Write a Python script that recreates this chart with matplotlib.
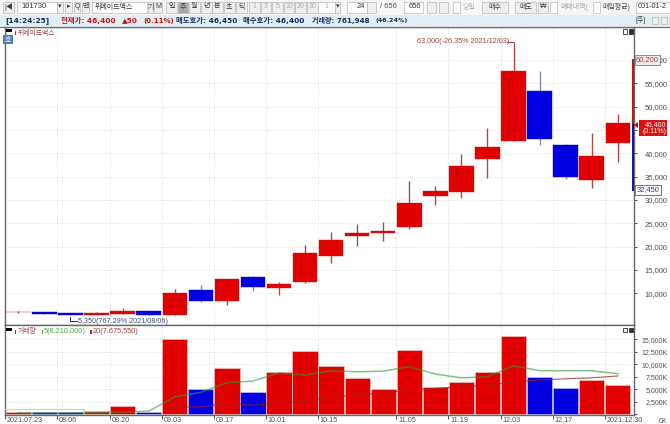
import numpy as np
import matplotlib
matplotlib.use('Agg')
import matplotlib.pyplot as plt
from matplotlib.patches import Rectangle, Polygon
from matplotlib.transforms import ScaledTranslation

plt.rcParams['font.family'] = ['Liberation Sans', 'Noto Sans CJK KR', 'DejaVu Sans']
BOLD_FONT = ['DejaVu Sans', 'Noto Sans CJK KR']

W, H = 670, 424

# weekly candles
date_labels = ['2021.07.23', '08.06', '08.20', '09.03', '09.17', '10.01', '10.15', '11.05', '11.19', '12.03', '12.17', '2021.12.30']
date_index = [0, 2, 4, 6, 8, 10, 12, 15, 17, 19, 21, 23]

opens = [5900, 5950, 5700, 5400, 5650, 6150, 5350, 10700, 8400, 13430, 11100, 12360,
         18000, 22300, 22860, 24280, 30800, 31780, 38720, 42700, 53350, 41800, 34300, 42150]
closes = [6100, 5650, 5350, 5850, 6150, 5400, 10150, 8400, 13000, 11420, 11950, 18700,
          21500, 23000, 23420, 29420, 32000, 37290, 41420, 57700, 43000, 34900, 39500, 46400]
highs = [6200, 6000, 5750, 6000, 6850, 6300, 10900, 11800, 13000, 13700, 12350, 20350,
         23100, 24850, 25350, 34070, 33060, 39790, 45360, 63000, 57700, 42100, 44300, 48350]
lows = [5800, 5600, 5350, 5300, 5600, 5300, 5350, 8200, 7500, 10560, 9650, 12150,
        16570, 20200, 21200, 23850, 28930, 30490, 34650, 42700, 41800, 34600, 32500, 38200]
down = [0, 1, 1, 0, 0, 1, 0, 1, 0, 1, 0, 0, 0, 0, 0, 0, 0, 0, 0, 0, 1, 1, 0, 0]

# volume in thousands
volume = [500, 450, 450, 700, 1670, 470, 15050, 5000, 9330, 4375, 8400, 12700,
          9740, 7200, 5040, 12900, 5500, 6450, 8530, 15700, 7400, 5300, 6800, 5850]
ma5 = [300, 300, 300, 350, 450, 600, 3490, 4400, 6300, 6650, 8300, 7860,
       8700, 8500, 8650, 9530, 8060, 7300, 7500, 9730, 8720, 8720, 8720, 8120]
ma20_x = [6, 7, 8, 9, 10, 11, 12, 13, 14, 15, 16, 17, 18, 19, 20, 21, 22, 23]
ma20 = [1470, 1470, 2150, 1800, 2150, 2800, 3400, 3900, 4200, 4900, 5200, 5500, 5800, 6500, 6850, 7100, 7300, 7675]
# pale line over the first weeks
early_x = [-0.5, 2.5, 2.5, 3.5]
early = [1000, 1000, 750, 750]

price_ticks = [10000, 15000, 20000, 25000, 30000, 35000, 40000, 45000, 50000, 55000, 60000]
vol_ticks = [0, 2500, 5000, 7500, 10000, 12500, 15000]

RED = '#e00000'
BLUE = '#0000e0'
WICK_RED = '#b04848'
WICK_BLUE = '#8888c4'
GRID = '#dcdcdc'

fig = plt.figure(figsize=(W / 100, H / 100), dpi=100, facecolor='white')


def box(l, t, r, b):
    return [l / W, 1 - b / H, (r - l) / W, (b - t) / H]


# price panel: 10000 at y=293.3, 30000 at y=200, x index 0 at 18.4, spacing 26.06
L, R = 4.5, 634.0
xlim = ((L - 18.4) / 26.06, (R - 18.4) / 26.06)
ax = fig.add_axes(box(L, 27, R, 325.3))
ax.set_xlim(*xlim)
ax.set_ylim(30000 + (200 - 325.3) * 214.3, 30000 + (200 - 27) * 214.3)
vx = fig.add_axes(box(L, 325.3, R, 415))
vx.set_xlim(*xlim)
vx.set_ylim(-150, 15000 + (339.3 - 325.3) * 201.6)

for a in (ax, vx):
    a.set_xticks([i - 0.5 for i in date_index])
    a.grid(True, color=GRID, linestyle=':', linewidth=0.7)
    a.set_axisbelow(True)
    a.yaxis.tick_right()
    for s in ('top', 'left', 'right', 'bottom'):
        a.spines[s].set_color('#686868')
        a.spines[s].set_linewidth(1.0)

for i in range(24):
    col = BLUE if down[i] else RED
    ax.vlines(i, lows[i], highs[i], color=WICK_BLUE if down[i] else WICK_RED, linewidth=1, zorder=2)
    bottom = min(opens[i], closes[i])
    ax.add_patch(Rectangle((i - 0.47, bottom), 0.94, abs(opens[i] - closes[i]), facecolor=col,
                           edgecolor='#c02020' if not down[i] else '#1010c0', linewidth=0.3, zorder=3))
    vx.bar(i, volume[i], width=0.97, color=col, edgecolor='#f4c0c0' if not down[i] else '#c0c0f4',
           linewidth=0.5, zorder=2)

vx.plot(early_x, early, color='#e0c8c0', linewidth=0.8, zorder=3)
vx.plot(range(24), ma5, color='#30a030', alpha=0.6, linewidth=1.1, zorder=4)
vx.plot(ma20_x, ma20, color='#a02020', alpha=0.75, linewidth=0.8, zorder=4)

ax.set_yticks(price_ticks)
ax.set_yticklabels([f'{v:,}' for v in price_ticks], ha='right')
ax.tick_params(axis='y', labelsize=5.5, colors='#505050', length=2, width=0.7, pad=22.2)
ax.tick_params(axis='x', length=0, labelbottom=False)

vx.set_yticks(vol_ticks)
vx.set_yticklabels([f'{v:,}K' for v in vol_ticks], ha='right')
vx.tick_params(axis='y', labelsize=5, colors='#505050', length=2, width=0.7, pad=22.2)
vx.tick_params(axis='x', length=3, width=0.7, color='#505050', labelbottom=False)
# the 0K label sits lower than its tick
zero_lab = vx.yaxis.get_major_ticks()[0].label2
zero_lab.set_transform(zero_lab.get_transform() + ScaledTranslation(0, -0.06, fig.dpi_scale_trans))
for i, s in zip(date_index, date_labels):
    vx.annotate(s, (i - 0.5, 0), xycoords=('data', 'axes fraction'), xytext=(1.2, -1.6),
                textcoords='offset points', va='top', ha='left', fontsize=5.2, color='#505050',
                annotation_clip=False)

# overlay for toolbar, status row and labels
ov = fig.add_axes([0, 0, 1, 1], zorder=10)
ov.set_xlim(0, W)
ov.set_ylim(H, 0)
ov.axis('off')
ov.patch.set_alpha(0)

ov.add_patch(Rectangle((0, 0), W, 14.5, facecolor='#f6f6f6', edgecolor='none', zorder=0))
ov.add_patch(Rectangle((0, 14.5), W, 12.5, facecolor='#e2eef4', edgecolor='none', zorder=0))
ov.plot([0, W], [27, 27], color='#707070', linewidth=0.9)


def txt(x, y, s, size=5.2, color='#303030', ha='left', **kw):
    ov.text(x, y, s, fontsize=size, color=color, ha=ha, va='center', **kw)


def btn(x0, x1, s='', color='#404040', fc='#eeeeee', y0=1.5, y1=12.5):
    ov.add_patch(Rectangle((x0, y0), x1 - x0, y1 - y0, facecolor=fc, edgecolor='#b8b8b8', linewidth=0.5))
    if s:
        txt((x0 + x1) / 2, (y0 + y1) / 2, s, size=5, color=color, ha='center')


btn(3, 14, '|◀')
btn(17, 57, fc='white')
txt(21, 7, '101730', size=5.4)
btn(57, 63, '▾')
btn(65, 72, '▸')
btn(74, 80, 'Q')
btn(82, 89, '뗀')
btn(92, 147, fc='white')
txt(95, 7, '위메이드맥스', size=5)
btn(148, 153, '기')
btn(154, 162, 'M')
tab_x = [166, 177.6, 189, 201, 212, 224, 236]
for x, s in zip(tab_x, ['일', '주', '월', '년', '분', '초', '틱']):
    btn(x, x + 10.5, s, fc='#a8a8a8' if s == '주' else '#eeeeee')
for i, s in enumerate(['1', '3', '5', '10', '20', '30']):
    btn(249 + i * 11.6, 259.5 + i * 11.6, s, color='#b0b0b0')
btn(318, 335, '1', color='#b0b0b0', fc='white')
btn(335, 340, '▾')
btn(347, 367, fc='white')
txt(365, 7, '24', size=5.4, ha='right')
btn(367, 376, '')
txt(380, 7, '/ 656', size=5.4, color='#505050')
btn(404, 423, fc='white')
txt(421, 7, '656', size=5.4, ha='right')
btn(427, 436)
btn(439, 448)
btn(453, 460, fc='white')
txt(462, 7, '당일', size=5, color='#b0b0b0')
btn(482, 508, '매수')
btn(515, 536, '매도')
btn(538, 548, '₩')
btn(550, 557, fc='white')
txt(560, 7, '매매내역(', size=5, color='#a8a8a8')
btn(593, 600, fc='white')
txt(602, 7, '매입평균)', size=5, color='#505050')
btn(636, 670, fc='white')
txt(638, 7, '001-01-2', size=5.2)

bold = dict(family=BOLD_FONT, fontweight='bold')
txt(5, 20.5, '[14:24:25]', size=5.4, color='#103060', **bold)
txt(61, 20.5, '현재가: 46,400', size=5.3, color='#d01010', **bold)
txt(122, 20.5, '▲50', size=5.3, color='#d01010', **bold)
txt(143, 20.5, '(0.11%)', size=5.0, color='#d01010', **bold)
txt(176, 20.5, '매도호가: 46,450', size=5.3, color='#103060', **bold)
txt(243, 20.5, '매수호가: 46,400', size=5.3, color='#103060', **bold)
txt(312, 20.5, '거래량: 761,948', size=5.1, color='#103060', **bold)
txt(376, 20.5, '(46.24%)', size=4.6, color='#103060', **bold)
txt(635, 20.5, '[주]', size=5, color='#404040')
btn(652, 658, y0=17, y1=24)
btn(661, 667, y0=17, y1=24)

# panel titles
ov.add_patch(Rectangle((6, 29), 6, 3, facecolor='black'))
ov.add_patch(Rectangle((3, 35), 10, 9, facecolor='#5080b0'))
txt(8, 39.5, '호', size=5, color='white', ha='center')
ov.add_patch(Rectangle((14.5, 31), 1.5, 4, facecolor='#c02020'))
txt(18, 33, '위메이드맥스', size=4.9, color='#a04040')

ov.add_patch(Rectangle((6, 328), 6, 3, facecolor='black'))
ov.add_patch(Rectangle((14.5, 329.5), 1.5, 4, facecolor='#c02020'))
txt(18, 331.5, '거래량', size=4.9, color='#a04040')
ov.add_patch(Rectangle((41.5, 329.5), 1.5, 4, facecolor='#40a040'))
txt(44, 331.5, '5(8,210,000)', size=5.3, color='#50b050')
ov.add_patch(Rectangle((90, 329.5), 1.5, 4, facecolor='#c02020'))
txt(93, 331.5, '20(7,675,550)', size=5.3, color='#a04040')

# high / low annotations
txt(417, 41.7, '63,000(-26.35% 2021/12/03)', size=5.2, color='#a04040')
ov.plot([506.5, 513.5, 513.5], [42, 42, 46], color='#a04040', linewidth=0.7)
txt(78, 321.7, '5,350(767.29% 2021/08/06)', size=5.2, color='#405080')
ov.plot([70, 70, 77], [317, 320.7, 320.7], color='#203060', linewidth=0.7)

# right side range bar
ov.plot([633, 633], [60, 125], color='#c01010', linewidth=1.4)
ov.plot([633, 633], [125, 190], color='#1010a0', linewidth=1.4)
ov.add_patch(Polygon([(634, 125), (638, 122), (638, 128)], facecolor='#c01010', edgecolor='none'))
ov.text(647.5, 60, '60,200', fontsize=5.4, color='#a04040', ha='center', va='center',
        bbox=dict(boxstyle='square,pad=0.2', fc='#f0e8e8', ec='#808080', lw=0.6))
ov.text(648, 190, '32,450', fontsize=5.4, color='#303090', ha='center', va='center',
        bbox=dict(boxstyle='square,pad=0.2', fc='white', ec='#606060', lw=0.6))
ov.add_patch(Rectangle((639, 120), 28, 16, facecolor='#e01010', edgecolor='none'))
txt(666.5, 124.3, '46,400', size=5, color='white', ha='right')
txt(666.5, 131.5, '(0.11%)', size=5, color='white', ha='right')

# little window buttons
for y in (29, 327.5):
    ov.add_patch(Rectangle((622.5, y), 4.5, 4.5, facecolor='white', edgecolor='#303030', linewidth=0.6))
    ov.add_patch(Rectangle((628.5, y), 4.5, 4.5, facecolor='#303030', edgecolor='#303030', linewidth=0.6))

fig.savefig('out.png', dpi=100)
